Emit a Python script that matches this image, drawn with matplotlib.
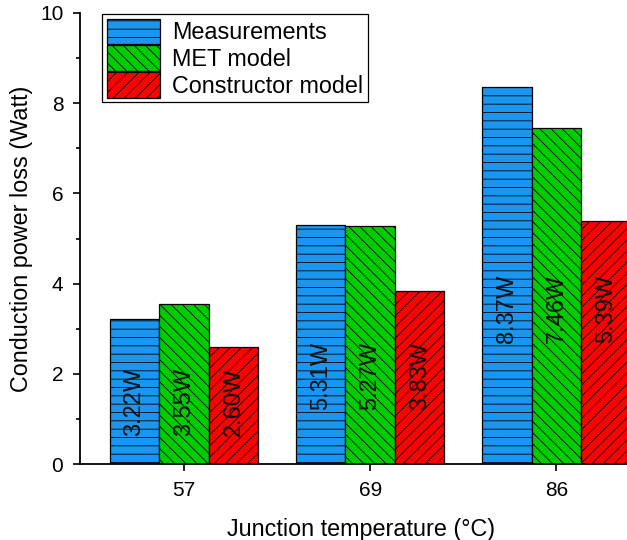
import matplotlib
matplotlib.use("Agg")
import matplotlib.pyplot as plt
import numpy as np

# temperatures on the x axis
temps = ["57", "69", "86"]
measurements = [3.22, 5.31, 8.37]
met_model = [3.55, 5.27, 7.46]
constructor_model = [2.60, 3.83, 5.39]
series_names = ["Measurements", "MET model", "Constructor model"]
# height of the value labels inside the bars, one per group
label_y = [1.37, 1.95, 3.43]

plt.rcParams["font.family"] = ["Liberation Sans", "DejaVu Sans"]
plt.rcParams["hatch.linewidth"] = 0.6
plt.rcParams["hatch.color"] = "black"

fig = plt.figure(figsize=(6.27, 5.40), dpi=100)
ax = fig.add_axes([80 / 627, 76 / 540, 547 / 627, 451 / 540])

x = np.arange(len(temps))
w = 0.266
colors = ["#1a96f0", "#00cc00", "#ff0000"]
hatches = ["--", "\\\\\\", "///"]
series = [measurements, met_model, constructor_model]

for k, (vals, name, c, h) in enumerate(zip(series, series_names, colors, hatches)):
    pos = x + (k - 1) * w
    ax.bar(pos, vals, width=w, color=c, edgecolor="black", linewidth=0.9,
           hatch=h, label=name)
    for i, v in enumerate(vals):
        ax.text(pos[i], label_y[i], f"{v:.2f}W", rotation=90, ha="center",
                va="center", fontsize=17, color="#111111")

ax.set_xlim(-0.559, 2.38)
ax.set_ylim(0, 10)
ax.set_xticks(x)
ax.set_xticklabels(temps)
ax.set_yticks([0, 2, 4, 6, 8, 10])
ax.set_yticks([1, 3, 5, 7, 9], minor=True)
ax.tick_params(axis="both", which="major", direction="out", length=5, width=1.2,
               labelsize=15, pad=7)
ax.tick_params(axis="y", which="minor", direction="out", length=3, width=1.2)
ax.spines["top"].set_visible(False)
ax.spines["right"].set_visible(False)
ax.spines["left"].set_linewidth(1.3)
ax.spines["bottom"].set_linewidth(1.3)

ax.set_xlabel("Junction temperature (°C)", fontsize=16.8)
ax.set_ylabel("Conduction power loss (Watt)", fontsize=16.8)
ax.xaxis.set_label_coords(0.514, -0.12)
ax.yaxis.set_label_coords(-0.086, 0.5)

leg = ax.legend(loc="upper left", bbox_to_anchor=(102 / 627, 1 - 14 / 540),
                bbox_transform=fig.transFigure, borderaxespad=0, fontsize=16.8,
                fancybox=False, edgecolor="black", framealpha=1,
                handlelength=2.3, handleheight=1.3, labelspacing=0.05,
                borderpad=0.2, handletextpad=0.5)
leg.get_frame().set_linewidth(0.9)

fig.savefig("out.png", dpi=100)
